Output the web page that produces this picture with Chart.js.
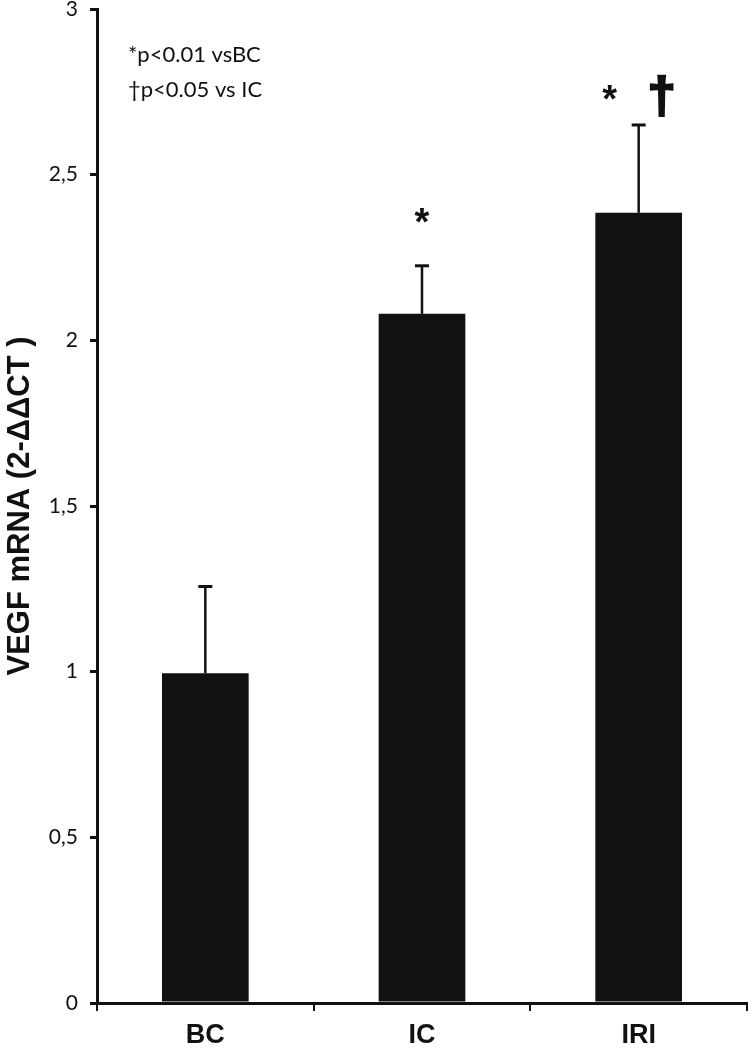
<!DOCTYPE html>
<html>
<head>
<meta charset="utf-8">
<script src="https://cdn.jsdelivr.net/npm/chart.js@4.4.0/dist/chart.umd.min.js"></script>
<style>
  html, body { margin: 0; padding: 0; background: #fff; }
  #wrap { width: 751px; height: 1050px; position: relative; }
</style>
</head>
<body>
<div id="wrap"><canvas id="chart-vegf"></canvas></div>
<script>
// data
const categories = ['BC', 'IC', 'IRI'];
const vegfMean = [0.995, 2.08, 2.385];
const vegfErr = [0.262, 0.145, 0.265];   // upper SD
const starY = [null, 2.375, 2.745];      // '*' marks (p<0.01 vs BC)
const daggerY = [null, null, 2.73];      // '†' mark (p<0.05 vs IC)
const yTicks = [0, 0.5, 1, 1.5, 2, 2.5, 3];
const legendLines = ['*p<0.01 vsBC', '\u2020p<0.05 vs IC'];

const errorBars = {
    id: 'errorBars',
    afterDatasetsDraw(chart) {
        const ctx = chart.ctx;
        const x = chart.scales.x, y = chart.scales.y;
        ctx.save();
        ctx.strokeStyle = '#111';
        vegfMean.forEach((v, i) => {
            const px = x.getPixelForValue(i);
            const top = y.getPixelForValue(v + vegfErr[i]);
            const base = y.getPixelForValue(v);
            ctx.lineWidth = 2.5;
            ctx.beginPath();
            ctx.moveTo(px, base);
            ctx.lineTo(px, top);
            ctx.stroke();
            ctx.lineWidth = 3;
            ctx.beginPath();
            ctx.moveTo(px - 7, top);
            ctx.lineTo(px + 7, top);
            ctx.stroke();
        });

        // significance marks
        ctx.fillStyle = '#111';
        ctx.textAlign = 'center';
        ctx.textBaseline = 'middle';
        ctx.font = 'bold 38px "Liberation Sans"';
        starY.forEach((s, i) => {
            if (s == null) return;
            const off = daggerY[i] != null ? -29 : 0;
            ctx.fillText('*', x.getPixelForValue(i) + off, y.getPixelForValue(s) + 8);
        });
        ctx.font = 'bold 50px "Liberation Sans"';
        ctx.lineWidth = 2.5;
        daggerY.forEach((d, i) => {
            if (d == null) return;
            const px = x.getPixelForValue(i) + 23, py = y.getPixelForValue(d);
            ctx.fillText('\u2020', px, py);
            ctx.strokeText('\u2020', px, py);
        });

        // legend text
        ctx.textAlign = 'left';
        ctx.font = '22px Lato';
        legendLines.forEach((t, k) => {
            ctx.fillText(t, 128, 55 + k * 35);
        });
        ctx.restore();
    }
};

const ctx1 = document.getElementById('chart-vegf');

new Chart(ctx1, {
    type: 'bar',
    data: {
        labels: categories,
        datasets: [{
            data: vegfMean,
            backgroundColor: '#111',
            borderWidth: 0,
            barPercentage: 0.4,
            categoryPercentage: 1
        }]
    },
    options: {
        responsive: true,
        maintainAspectRatio: false,
        animation: false,
        layout: { padding: { top: 9, right: 4, left: 0, bottom: 0 } },
        plugins: {
            legend: { display: false },
            tooltip: { enabled: false }
        },
        scales: {
            x: {
                afterFit: s => { s.height = 47; s.paddingLeft = 0; s.paddingRight = 0; },
                grid: {
                    offset: true,
                    drawOnChartArea: false,
                    tickLength: 8,
                    lineWidth: 2,
                    color: '#111'
                },
                border: { color: '#111', width: 3 },
                ticks: {
                    color: '#111',
                    padding: 8,
                    font: { family: '"Liberation Sans"', size: 27, weight: 'bold' }
                }
            },
            y: {
                min: 0,
                max: 3,
                afterFit: s => { s.width = 97; s.paddingTop = 0; s.paddingBottom = 0; },
                afterBuildTicks: s => { s.ticks = yTicks.map(v => ({ value: v })); },
                grid: {
                    drawOnChartArea: false,
                    tickLength: 7,
                    lineWidth: 3,
                    color: '#111'
                },
                border: { color: '#111', width: 3 },
                ticks: {
                    color: '#111',
                    padding: 12,
                    font: { family: 'Lato', size: 21 },
                    callback: v => String(v).replace('.', ',')
                },
                title: {
                    display: true,
                    text: 'VEGF mRNA (2-\u0394\u0394CT )',
                    color: '#111',
                    padding: { top: 2, bottom: 0 },
                    font: { family: '"Liberation Sans"', size: 31, weight: 'bold' }
                }
            }
        }
    },
    plugins: [errorBars]
});
</script>
</body>
</html>
